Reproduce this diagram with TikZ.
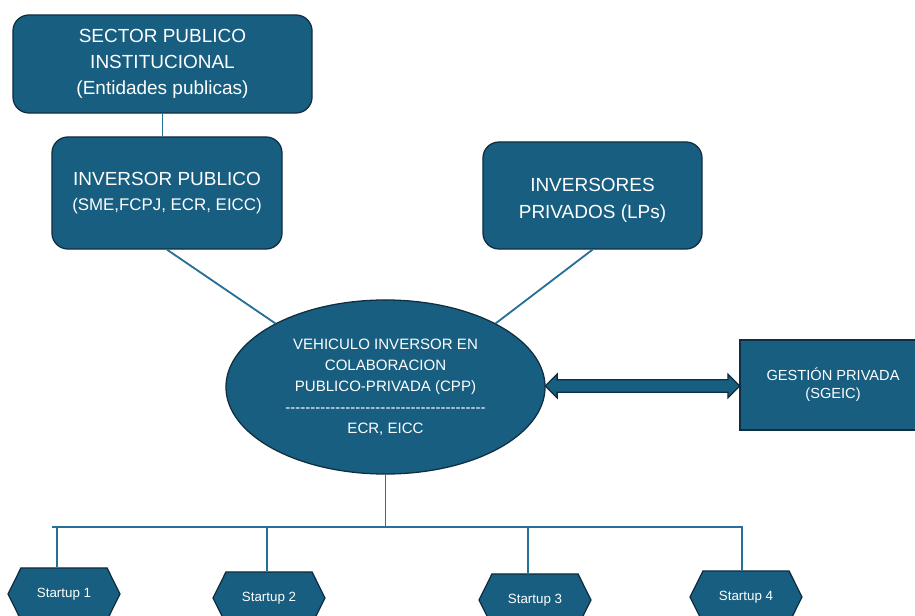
\documentclass[tikz,border=0pt]{standalone}
\usepackage{fontspec}
\setmainfont{Liberation Sans}
\usetikzlibrary{shapes.geometric,shapes.symbols,shapes.arrows}
\definecolor{azulcaja}{RGB}{23,94,128}
\definecolor{azulborde}{RGB}{16,46,66}
\definecolor{azullinea}{RGB}{36,112,152}
\tikzset{
  caja/.style={draw=azulborde, fill=azulcaja, line width=0.9pt, rounded corners=0.4cm, text=white, align=center, inner sep=2pt},
  cajarecta/.style={draw=azulborde, fill=azulcaja, line width=0.9pt, text=white, align=center},
  elipse/.style={ellipse, draw=azulborde, fill=azulcaja, line width=0.9pt, text=white, align=center, inner sep=0pt},
  startup/.style={signal, signal to=west and east, signal pointer angle=127, draw=azulborde, fill=azulcaja, line width=0.9pt, text=white, minimum width=2.8cm, minimum height=1.3cm, inner sep=0pt, font=\fontsize{9.5}{11}\selectfont},
  linea/.style={draw=azullinea, line width=1.3pt},
  flecha/.style={double arrow, double arrow head extend=0.14cm, draw=azulborde, fill=azulcaja, line width=0.9pt, minimum height=4.86cm, minimum width=0.55cm, inner xsep=0pt, inner ysep=0.14cm}
}
\begin{document}
\begin{tikzpicture}[x=0.025cm, y=-0.025cm]
	\useasboundingbox (0,0) rectangle (915,616);
	\node [caja, minimum width=7.475cm, minimum height=2.45cm, font=\fontsize{13.5}{18.4}\selectfont] (sector) at (162.5,64) {SECTOR PUBLICO\\INSTITUCIONAL\\(Entidades publicas)};
	\node [caja, minimum width=5.75cm, minimum height=2.8cm] (invpub) at (167,193) {\fontsize{13.5}{19}\selectfont INVERSOR PUBLICO\\[6pt]\fontsize{12}{19}\selectfont (SME,FCPJ, ECR, EICC)};
	\node [caja, minimum width=5.475cm, minimum height=2.675cm, text height=35pt, font=\fontsize{13.5}{19}\selectfont] (invpriv) at (592.5,195.5) {INVERSORES\\PRIVADOS (LPs)};
	\node [elipse, minimum width=7.975cm, minimum height=4.35cm, font=\fontsize{10.7}{14.9}\selectfont] (cpp) at (385.5,387) {VEHICULO INVERSOR EN\\COLABORACION\\PUBLICO-PRIVADA (CPP)\\\foreach \i in {1,...,40}{\mbox{-}}\\ECR, EICC};
	\node [cajarecta, minimum width=4.65cm, minimum height=2.25cm, font=\fontsize{10.4}{12.8}\selectfont] (gestion) at (833,385) {GESTIÓN PRIVADA\\(SGEIC)};
	\node [startup] (s1) at (64,594) {Startup 1};
	\node [startup] (s2) at (269,598) {Startup 2};
	\node [startup] (s3) at (535,600) {Startup 3};
	\node [startup] (s4) at (746,597) {Startup 4};

	\draw [linea] (sector.south) -- (sector.south |- invpub.north);
	\draw [linea] (invpub.south) -- (cpp.150);
	\draw [linea] (invpriv.south) -- (cpp.30);
	\path (cpp.east) -- (gestion.west) node [flecha, midway] (doble) {};

	\coordinate (bus) at (52,527);
	\coordinate (d1) at ([xshift=-0.175cm]s1.north);
	\coordinate (d2) at ([xshift=-0.05cm]s2.north);
	\coordinate (d3) at ([xshift=-0.175cm]s3.north);
	\coordinate (d4) at ([xshift=-0.1cm]s4.north);
	\draw [linea] (cpp.south) -- (cpp.south |- bus);
	\draw [linea] (bus) -- (bus -| d4) -- (d4);
	\foreach \n in {1,2,3}
		\draw [linea] (d\n) -- (d\n |- bus);
\end{tikzpicture}
\end{document}
